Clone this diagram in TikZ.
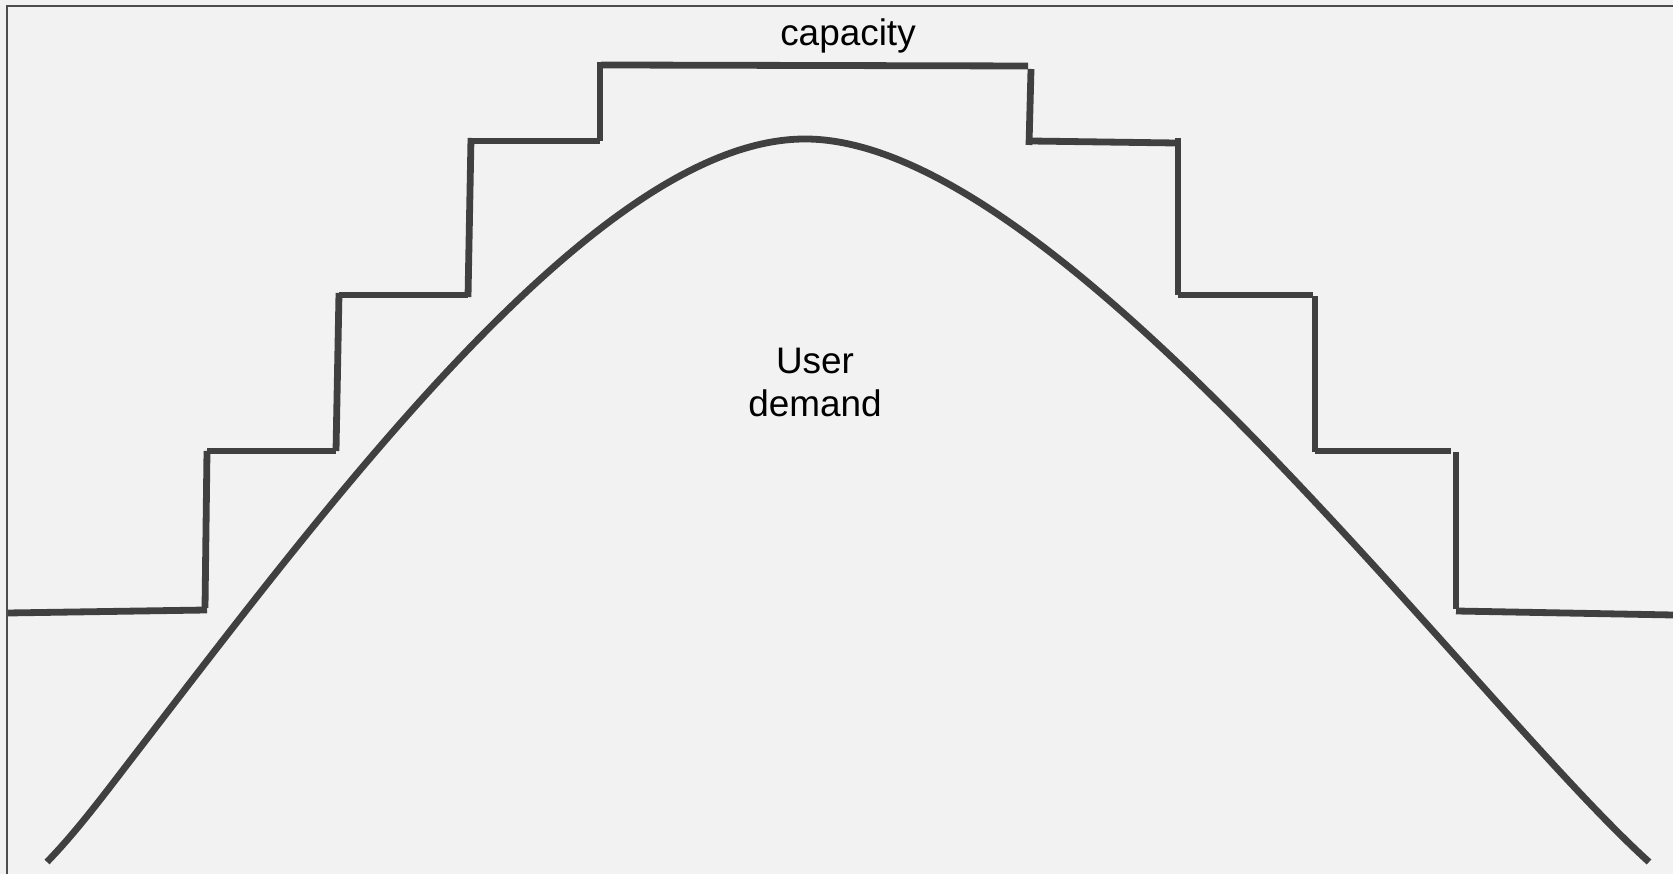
\documentclass[tikz,border=0pt]{standalone}
\usepackage{fontspec}
\setmainfont{Liberation Sans}
\usepackage{tikz}
\definecolor{bgcol}{HTML}{F2F2F2}
\definecolor{framecol}{HTML}{4D4D4D}
\definecolor{linecol}{HTML}{404040}
\tikzset{thickline/.style={line width=0.068cm, draw=linecol}}

\begin{document}
\begin{tikzpicture}[x=0.01cm, y=-0.01cm]
			%%%%% START %%%%%
			\useasboundingbox[fill=bgcol] (0, 0) rectangle (1673, 874);
			\draw[framecol, line width=0.02cm] (7, 874) -- (7, 6) -- (1673, 6);
			
			% capacity, one step after the other
			\draw[thickline] (8, 613) -- (207, 610);
			\draw[thickline] (205, 608) -- (207, 451);
			\draw[thickline] (207, 451) -- (336, 451);
			\draw[thickline] (336, 451) -- (339, 293);
			\draw[thickline] (339, 295) -- (468, 295);
			\draw[thickline] (468, 297) -- (471, 138);
			\draw[thickline] (470, 141) -- (600, 141);
			\draw[thickline] (600, 141) -- (600, 62);
			\draw[thickline] (601, 65) -- (1028, 66);
			\draw[thickline] (1031, 69) -- (1029, 145);
			\draw[thickline] (1030, 141) -- (1175, 143);
			\draw[thickline] (1178, 138) -- (1178, 295);
			\draw[thickline] (1178, 295) -- (1313, 295);
			\draw[thickline] (1315, 296) -- (1315, 452);
			\draw[thickline] (1315, 451) -- (1451, 451);
			\draw[thickline] (1456, 452) -- (1456, 609);
			\draw[thickline] (1456, 611) -- (1673, 615);
			
			% user demand
			\draw[thickline] (47, 862) .. controls (77, 831) and (103, 796) .. (133, 757)
				.. controls (333, 497) and (600, 139) .. (805, 139)
				.. controls (1060, 139) and (1470, 700) .. (1649, 862);
			
			\node[anchor=base, inner sep=0pt, font=\fontsize{10.5}{12.5}\selectfont] (capacity) at (848, 46) {capacity};
			\node[anchor=base, inner sep=0pt, align=center, font=\fontsize{10.5}{12.5}\selectfont] (demand) at (815, 417) {User\\demand};
			%%%%% END %%%%%
		\end{tikzpicture}
\end{document}
